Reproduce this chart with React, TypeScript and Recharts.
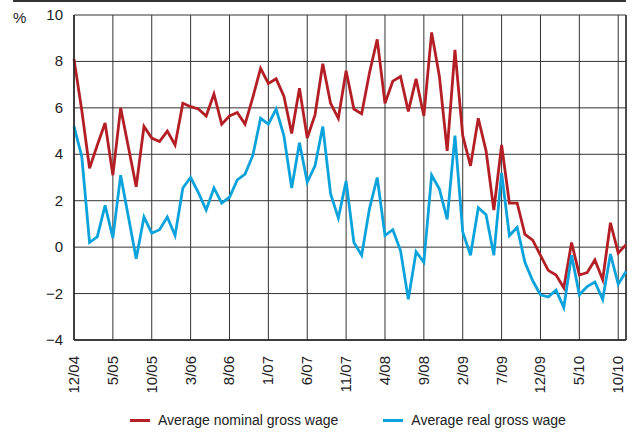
import { LineChart, Line, XAxis, YAxis, CartesianGrid, ReferenceLine } from 'recharts';

const months = [
    '12/04',
    '1/05', '2/05', '3/05', '4/05', '5/05', '6/05', '7/05', '8/05', '9/05', '10/05', '11/05', '12/05',
    '1/06', '2/06', '3/06', '4/06', '5/06', '6/06', '7/06', '8/06', '9/06', '10/06', '11/06', '12/06',
    '1/07', '2/07', '3/07', '4/07', '5/07', '6/07', '7/07', '8/07', '9/07', '10/07', '11/07', '12/07',
    '1/08', '2/08', '3/08', '4/08', '5/08', '6/08', '7/08', '8/08', '9/08', '10/08', '11/08', '12/08',
    '1/09', '2/09', '3/09', '4/09', '5/09', '6/09', '7/09', '8/09', '9/09', '10/09', '11/09', '12/09',
    '1/10', '2/10', '3/10', '4/10', '5/10', '6/10', '7/10', '8/10', '9/10', '10/10', '11/10',
];

const nominalWage = [
    8.1, 5.9, 3.4, 4.4, 5.35, 3.1, 6.0, 4.3, 2.6, 5.2, 4.7, 4.55, 5.0, 4.4, 6.2,
    6.05, 5.95, 5.65, 6.6, 5.3, 5.65, 5.8, 5.3, 6.45, 7.7, 7.05, 7.25, 6.5, 4.9,
    6.85, 4.7, 5.7, 7.9, 6.2, 5.55, 7.6, 5.95, 5.75, 7.5, 8.95, 6.2, 7.15, 7.35,
    5.85, 7.25, 5.65, 9.25, 7.35, 4.15, 8.5, 4.8, 3.5, 5.55, 4.15, 1.6, 4.4, 1.9,
    1.9, 0.55, 0.3, -0.35, -1.0, -1.2, -1.75, 0.2, -1.2, -1.1, -0.55, -1.4, 1.05, -0.25, 0.1,
];

const realWage = [
    5.2, 3.9, 0.2, 0.45, 1.8, 0.4, 3.1, 1.3, -0.5, 1.3, 0.6, 0.75, 1.3, 0.5, 2.55,
    3.0, 2.35, 1.6, 2.55, 1.9, 2.15, 2.9, 3.15, 3.95, 5.55, 5.3, 5.95, 4.8, 2.55,
    4.5, 2.8, 3.5, 5.2, 2.3, 1.25, 2.85, 0.2, -0.35, 1.65, 3.0, 0.5, 0.75, -0.15,
    -2.25, -0.2, -0.65, 3.1, 2.5, 1.2, 4.8, 0.65, -0.35, 1.7, 1.4, -0.35, 3.2, 0.5,
    0.85, -0.65, -1.45, -2.05, -2.15, -1.85, -2.6, -0.35, -2.05, -1.7, -1.5, -2.25, -0.3, -1.6, -1.05,
];

const yTicks = [-4, -2, 0, 2, 4, 6, 8, 10];

const RED = '#b41f26';
const BLUE = '#0ca3dc';
const FONT = '"Liberation Sans", Arial, sans-serif';

const data = months.map((m, i) => ({ month: m, nominal: nominalWage[i], real: realWage[i] }));

const fmt = (v: number) => (v < 0 ? '\u2212' + Math.abs(v) : String(v));

const XTick = ({ x, y, payload }: any) => (
    <text
        transform={`translate(${x + 5},${y + 8}) rotate(-90)`}
        textAnchor="end"
        fontSize={15}
        fontFamily={FONT}
        fill="#222"
    >
        {payload.value}
    </text>
);

const YTick = ({ y, payload }: any) => (
    <text x={63} y={y} dy={5} textAnchor="end" fontSize={15} fontFamily={FONT} fill="#222">
        {fmt(payload.value)}
    </text>
);

const LegendItem = ({ color, label }: { color: string, label: string }) => (
    <div style={{ display: 'flex', alignItems: 'center' }}>
        <div style={{ width: 20, height: 3, background: color, marginRight: 8 }} />
        <span>{label}</span>
    </div>
);

export default function App() {
    return (
        <div style={{ position: 'absolute', left: 0, top: 0, width: 640, height: 432, background: '#fff', fontFamily: FONT }}>
            {/* rule across the top */}
            <div style={{ position: 'absolute', left: 13, top: 0, width: 613, height: 2, background: '#333' }} />
            <div style={{ position: 'absolute', left: 13, top: 9, fontSize: 15, color: '#222' }}>%</div>

            <LineChart width={640} height={432} data={data} margin={{ top: 15, right: 14, left: 0, bottom: 52 }}>
                <CartesianGrid stroke="#333" strokeWidth={1} />
                <XAxis
                    dataKey="month"
                    interval={4}
                    height={40}
                    tick={<XTick />}
                    tickLine={false}
                    axisLine={{ stroke: '#222', strokeWidth: 1.5 }}
                />
                <YAxis
                    width={74}
                    domain={[-4, 10]}
                    ticks={yTicks}
                    tick={<YTick />}
                    tickLine={false}
                    axisLine={{ stroke: '#222', strokeWidth: 1.5 }}
                />
                <ReferenceLine x="11/10" stroke="#333" strokeWidth={1.5} />
                <Line type="linear" dataKey="nominal" stroke={RED} strokeWidth={2.8} dot={false} isAnimationActive={false} />
                <Line type="linear" dataKey="real" stroke={BLUE} strokeWidth={2.8} dot={false} isAnimationActive={false} />
            </LineChart>

            <div style={{ position: 'absolute', left: 130, top: 412, display: 'flex', gap: 45, fontSize: 14, color: '#222' }}>
                <LegendItem color={RED} label="Average nominal gross wage" />
                <LegendItem color={BLUE} label="Average real gross wage" />
            </div>
        </div>
    );
}
